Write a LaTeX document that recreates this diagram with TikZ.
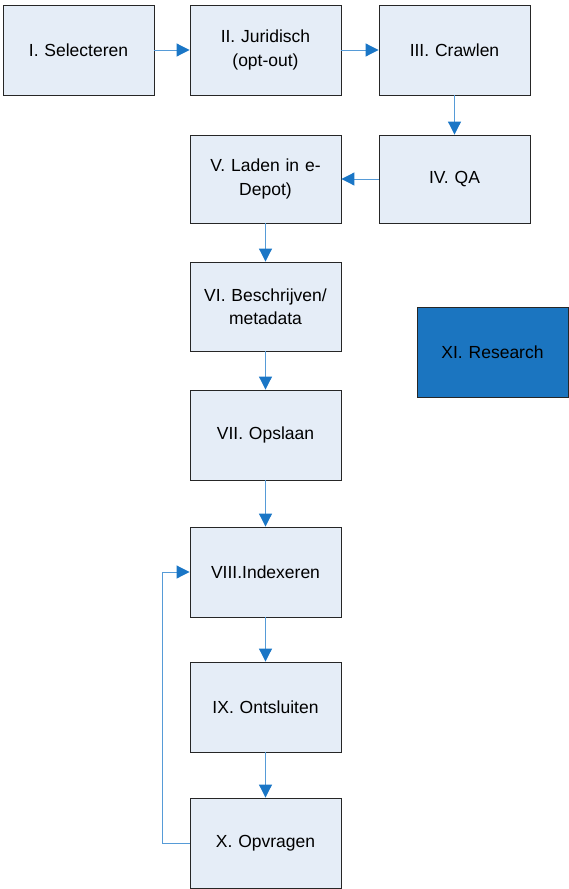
\documentclass[tikz,border=0pt]{standalone}
\usepackage{fontspec}
\setmainfont{Liberation Sans}
\usetikzlibrary{arrows.meta}
\definecolor{boxfill}{RGB}{229,237,247}
\definecolor{linecol}{RGB}{86,155,215}
\definecolor{headcol}{RGB}{26,118,198}
\definecolor{resfill}{RGB}{27,117,192}
\tikzset{
  stepbox/.style={draw=black!85, line width=0.9pt, fill=boxfill, minimum width=151pt, minimum height=90pt, align=center, font=\fontsize{17.5}{23.5}\selectfont, inner sep=2pt, text width=140pt},
  resbox/.style={stepbox, fill=resfill},
  flow/.style={draw=linecol, line width=1pt, -{Triangle[length=13pt,width=13pt,color=headcol]}}
}
\begin{document}
\begin{tikzpicture}[x=1pt,y=-1pt]
\useasboundingbox (0,0) rectangle (568,889);
\node[stepbox] (s1) at (78.5,50) {I. Selecteren};
\node[stepbox] (s2) at (265.5,50) {II. Juridisch\\(opt-out)};
\node[stepbox] (s3) at (454.5,50) {III. Crawlen};
\node[stepbox, minimum height=88pt] (s4) at (454.5,179) {IV. QA};
\node[stepbox, minimum height=88pt] (s5) at (265.5,179) {V. Laden in e-\\Depot)};
\node[stepbox, minimum height=89pt] (s6) at (265.5,306.5) {VI. Beschrijven/\\metadata};
\node[stepbox] (s7) at (265.5,435) {VII. Opslaan};
\node[stepbox] (s8) at (265.5,572) {VIII.Indexeren};
\node[stepbox] (s9) at (265.5,707) {IX. Ontsluiten};
\node[stepbox] (s10) at (265.5,843) {X. Opvragen};
\node[resbox] (s11) at (492.5,352) {XI. Research};
\draw[flow] (s1) -- (s2);
\draw[flow] (s2) -- (s3);
\draw[flow] (s3) -- (s4);
\draw[flow] (s4) -- (s5);
\draw[flow] (s5) -- (s6);
\draw[flow] (s6) -- (s7);
\draw[flow] (s7) -- (s8);
\draw[flow] (s8) -- (s9);
\draw[flow] (s9) -- (s10);
\coordinate (loopx) at (162,0);
\draw[flow] (s10.west) -- (s10.west -| loopx) -- (s8.west -| loopx) -- (s8.west);
\end{tikzpicture}
\end{document}
